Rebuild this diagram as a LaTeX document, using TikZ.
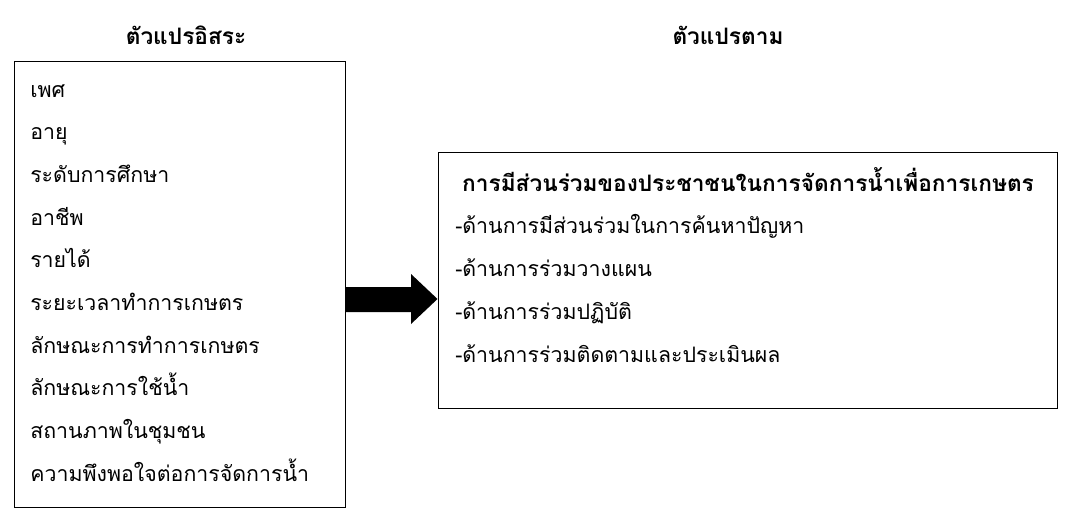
\documentclass[tikz,border=0pt]{standalone}
\usepackage{fontspec}
\setmainfont[Script=Thai]{Loma}
\usetikzlibrary{positioning}

\tikzset{
  varbox/.style={draw,line width=0.75pt,inner sep=0pt},
  item/.style={anchor=base west,inner sep=0pt,font=\fontsize{16}{18}\selectfont},
  heading/.style={anchor=base,inner sep=0pt,font=\fontsize{17}{19}\selectfont\bfseries}
}

\begin{document}
\begin{tikzpicture}[x=0.75pt,y=-0.75pt]
      \useasboundingbox (0,0) rectangle (1069,514);

      % headings
      \node[heading] (hindep) at (186,44) {ตัวแปรอิสระ};
      \node[heading] (hdep)   at (728,44) {ตัวแปรตาม};

      % boxes
      \node[varbox,minimum width=331*0.75pt,minimum height=446*0.75pt] (indep) at (179.5,284) {};
      \node[varbox,minimum width=619*0.75pt,minimum height=256*0.75pt] (dep)   at (747.5,280) {};

      % independent variables
      \begin{scope}[every node/.style={item}]
        \node (v1)  at (30,97)    {เพศ};
        \node (v2)  at (30,139.7) {อายุ};
        \node (v3)  at (30,182.4) {ระดับการศึกษา};
        \node (v4)  at (30,225.1) {อาชีพ};
        \node (v5)  at (30,267.8) {รายได้};
        \node (v6)  at (30,310.5) {ระยะเวลาทำการเกษตร};
        \node (v7)  at (30,353.2) {ลักษณะการทำการเกษตร};
        \node (v8)  at (30,395.9) {ลักษณะการใช้น้ำ};
        \node (v9)  at (30,438.6) {สถานภาพในชุมชน};
        \node (v10) at (30,481.3) {ความพึงพอใจต่อการจัดการน้ำ};
      \end{scope}

      % dependent variable
      \node[heading] (dtitle) at (748,191) {การมีส่วนร่วมของประชาชนในการจัดการน้ำเพื่อการเกษตร};
      \begin{scope}[every node/.style={item}]
        \node (d1) at (455,233) {-ด้านการมีส่วนร่วมในการค้นหาปัญหา};
        \node (d2) at (455,276) {-ด้านการร่วมวางแผน};
        \node (d3) at (455,319) {-ด้านการร่วมปฏิบัติ};
        \node (d4) at (455,362) {-ด้านการร่วมติดตามและประเมินผล};
      \end{scope}

      % block arrow
      \fill (indep.east |- 0,287) -- (411,287) -- (411,274) -- (dep.west |- 0,299)
        -- (411,324) -- (411,312) -- (indep.east |- 0,312) -- cycle;

    \end{tikzpicture}
\end{document}
